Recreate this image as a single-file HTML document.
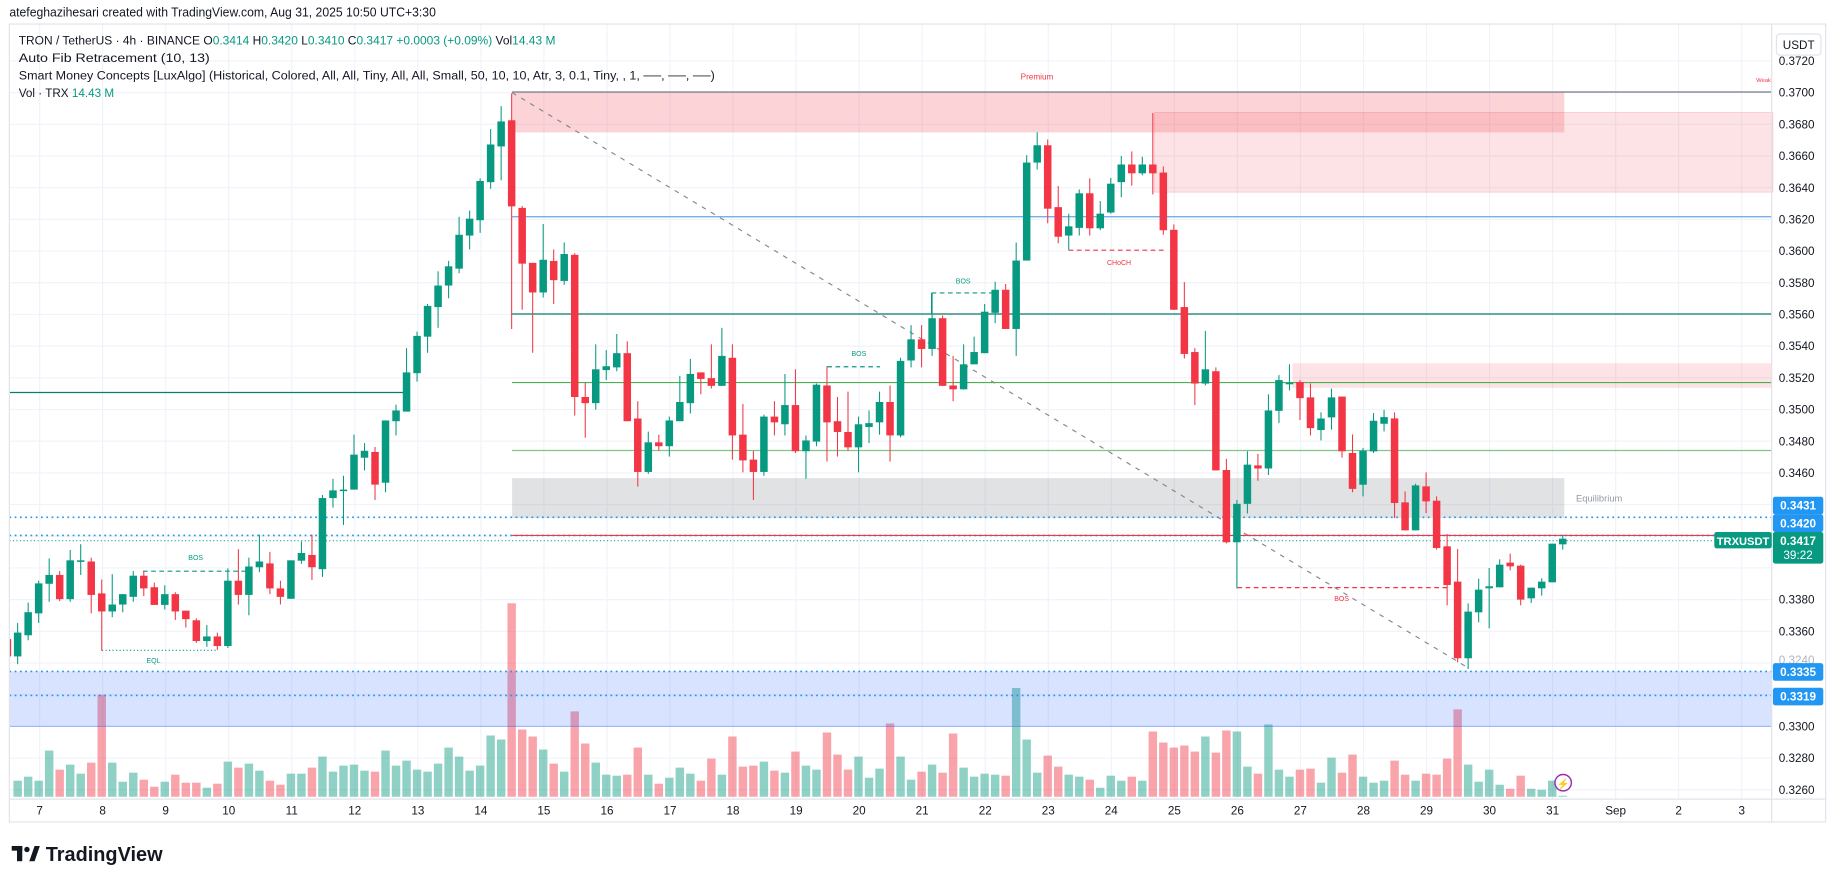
<!DOCTYPE html>
<html><head><meta charset="utf-8">
<style>
html,body{margin:0;padding:0;background:#fff;}
svg{display:block;font-family:"Liberation Sans",sans-serif;}
</style></head>
<body>
<svg id="c" width="1835" height="883" viewBox="0 0 1566 753.6" preserveAspectRatio="none" xmlns="http://www.w3.org/2000/svg">
<rect x="0" y="0" width="1566" height="753.6" fill="#fff"/>
<g id="grid" stroke="#f0f3fa" stroke-width="1"></g>
<!-- zones -->
<rect x="437" y="79" width="898" height="34" fill="rgba(242,54,69,0.21)"/>
<rect x="985" y="96" width="528" height="68" fill="rgba(242,54,69,0.14)" stroke="rgba(242,54,69,0.25)" stroke-width="0.6"/>
<rect x="1103" y="310" width="409" height="21" fill="rgba(242,54,69,0.14)"/>
<rect x="437" y="408" width="898" height="34" fill="rgba(120,123,134,0.22)"/>
<text x="1345" y="428" font-size="8" fill="#9598a1">Equilibrium</text>
<!-- lines -->
<line x1="437" y1="78.5" x2="1512" y2="78.5" stroke="#787b86" stroke-width="1"/>
<text x="885" y="68" font-size="7" fill="#f23645" text-anchor="middle">Premium</text>
<text x="1505" y="70" font-size="5" fill="#f23645" text-anchor="middle">Weak</text>
<line x1="437" y1="185" x2="1512" y2="185" stroke="#64a5e6" stroke-width="1"/>
<line x1="437" y1="268" x2="1512" y2="268" stroke="#0a7d6a" stroke-width="1.1"/>
<line x1="8" y1="335" x2="347" y2="335" stroke="#0a7d6a" stroke-width="1.1"/>
<line x1="437" y1="326.5" x2="1512" y2="326.5" stroke="#4caf50" stroke-width="0.9"/>
<line x1="437" y1="384.5" x2="1512" y2="384.5" stroke="#81c784" stroke-width="1"/>
<line x1="437" y1="79" x2="1253" y2="570" stroke="#888" stroke-width="1" stroke-dasharray="4,5"/>
<!-- SMC labels -->
<line x1="795" y1="250" x2="849" y2="250" stroke="#089981" stroke-width="1" stroke-dasharray="4,3"/>
<line x1="795" y1="250" x2="795" y2="268" stroke="#089981" stroke-width="1"/>
<text x="822" y="242" font-size="6" fill="#089981" text-anchor="middle">BOS</text>
<line x1="706" y1="313" x2="751" y2="313" stroke="#089981" stroke-width="1" stroke-dasharray="4,3"/>
<text x="733" y="304" font-size="6" fill="#089981" text-anchor="middle">BOS</text>
<line x1="122" y1="487.5" x2="212" y2="487.5" stroke="#089981" stroke-width="1" stroke-dasharray="4,3"/>
<text x="167" y="478" font-size="6" fill="#089981" text-anchor="middle">BOS</text>
<line x1="87" y1="555" x2="186" y2="555" stroke="#089981" stroke-width="1" stroke-dasharray="1,2"/>
<text x="131" y="566" font-size="6" fill="#089981" text-anchor="middle">EQL</text>
<line x1="912" y1="213.5" x2="993" y2="213.5" stroke="#f23645" stroke-width="1" stroke-dasharray="4,3"/>
<text x="955" y="226" font-size="6" fill="#f23645" text-anchor="middle">CHoCH</text>
<line x1="1056" y1="501.5" x2="1236" y2="501.5" stroke="#f23645" stroke-width="1" stroke-dasharray="4,3"/>
<text x="1145" y="513" font-size="6" fill="#f23645" text-anchor="middle">BOS</text>
<!-- volume -->
<g id="vol"></g>
<!-- price lines -->
<line x1="8" y1="441.5" x2="1512" y2="441.5" stroke="#2196f3" stroke-width="1.4" stroke-dasharray="1.5,3"/>
<line x1="8" y1="457" x2="1512" y2="457" stroke="#2196f3" stroke-width="1.4" stroke-dasharray="1.5,3"/>
<line x1="437" y1="457" x2="1512" y2="457" stroke="#f23645" stroke-width="1"/>
<line x1="8" y1="461.5" x2="1512" y2="461.5" stroke="#089981" stroke-width="0.8" stroke-dasharray="1,2"/>
<!-- candles -->
<g id="cnd"></g>
<!-- blue zone -->
<rect x="8" y="573" width="1504" height="47" fill="rgba(41,98,255,0.18)"/>
<line x1="8" y1="620" x2="1512" y2="620" stroke="rgba(41,98,255,0.35)" stroke-width="1"/>
<line x1="8" y1="573" x2="1512" y2="573" stroke="#2196f3" stroke-width="1.4" stroke-dasharray="1.5,3"/>
<line x1="8" y1="593.5" x2="1512" y2="593.5" stroke="#2196f3" stroke-width="1.4" stroke-dasharray="1.5,3"/>
<!-- lightning icon -->
<circle cx="1334" cy="668" r="7" fill="#fff" stroke="#9c27b0" stroke-width="1.2"/>
<text x="1334" y="672" font-size="9" fill="#9c27b0" text-anchor="middle">⚡</text>
<!-- frame -->
<rect x="8" y="20.5" width="1550" height="681" fill="none" stroke="#e0e3eb" stroke-width="1"/>
<line x1="8" y1="682" x2="1558" y2="682" stroke="#e0e3eb" stroke-width="1"/>
<line x1="1512" y1="20.5" x2="1512" y2="702" stroke="#e0e3eb" stroke-width="1"/>
<g id="axis" font-size="10" fill="#131722"></g>
<!-- header -->
<text x="8" y="14" font-size="11" fill="#131722" textLength="364" lengthAdjust="spacingAndGlyphs">atefeghazihesari created with TradingView.com, Aug 31, 2025 10:50 UTC+3:30</text>
<text x="16" y="38" font-size="10" fill="#131722" textLength="458" lengthAdjust="spacingAndGlyphs">TRON / TetherUS · 4h · BINANCE  O<tspan fill="#089981">0.3414</tspan>  H<tspan fill="#089981">0.3420</tspan>  L<tspan fill="#089981">0.3410</tspan>  C<tspan fill="#089981">0.3417</tspan>  <tspan fill="#089981">+0.0003 (+0.09%)</tspan>  Vol<tspan fill="#089981">14.43 M</tspan></text>
<text x="16" y="53" font-size="10" fill="#131722" textLength="163" lengthAdjust="spacingAndGlyphs">Auto Fib Retracement (10, 13)</text>
<text x="16" y="68" font-size="10" fill="#131722" textLength="594" lengthAdjust="spacingAndGlyphs">Smart Money Concepts [LuxAlgo] (Historical, Colored, All, All, Tiny, All, All, Small, 50, 10, 10, Atr, 3, 0.1, Tiny, , 1, ──, ──, ──)</text>
<text x="16" y="83" font-size="10" fill="#131722">Vol · TRX  <tspan fill="#089981">14.43 M</tspan></text>
<rect x="1516" y="29" width="38" height="18" rx="3" fill="#fff" stroke="#e0e3eb"/>
<text x="1535" y="42" font-size="10" fill="#131722" text-anchor="middle">USDT</text>
<!-- price tags -->
<rect x="1513" y="424" width="43" height="15" rx="2" fill="#2196f3"/>
<text x="1534.5" y="435" font-size="10" fill="#fff" text-anchor="middle" font-weight="bold">0.3431</text>
<rect x="1513" y="439" width="43" height="15" rx="2" fill="#2196f3"/>
<text x="1534.5" y="450" font-size="10" fill="#fff" text-anchor="middle" font-weight="bold">0.3420</text>
<rect x="1463" y="454" width="49" height="14" rx="2" fill="#089981"/>
<text x="1487.5" y="465" font-size="9.5" fill="#fff" text-anchor="middle" font-weight="bold">TRXUSDT</text>
<rect x="1513" y="454" width="43" height="27" rx="2" fill="#089981"/>
<text x="1534.5" y="465" font-size="10" fill="#fff" text-anchor="middle" font-weight="bold">0.3417</text>
<text x="1534.5" y="477" font-size="10" fill="#fff" text-anchor="middle">39:22</text>
<rect x="1513" y="566" width="43" height="15" rx="2" fill="#2196f3"/>
<text x="1534.5" y="577" font-size="10" fill="#fff" text-anchor="middle" font-weight="bold">0.3335</text>
<rect x="1513" y="587" width="43" height="15" rx="2" fill="#2196f3"/>
<text x="1534.5" y="598" font-size="10" fill="#fff" text-anchor="middle" font-weight="bold">0.3319</text>
<!-- logo -->
<g transform="translate(10,722)">
<rect x="0" y="0" width="9" height="4" fill="#131722"/>
<rect x="4.5" y="0" width="4.5" height="13" fill="#131722"/>
<circle cx="13" cy="3" r="2.3" fill="#131722"/>
<path d="M15 13 L19.5 0 L24 0 L19.5 13 Z" fill="#131722"/>
</g>
<text x="39" y="735" font-size="17" font-weight="bold" fill="#131722">TradingView</text>
</svg>
<script>
(function(){
var NS="http://www.w3.org/2000/svg";
function el(p,t,a){var e=document.createElementNS(NS,t);for(var k in a)e.setAttribute(k,a[k]);p.appendChild(e);return e;}
function Y(p){return 52+(0.372-p)*13522;}
var grid=document.getElementById('grid');
for(var p=0.372;p>0.3255;p-=0.002){var y=Y(p);el(grid,'line',{x1:8,y1:y,x2:1512,y2:y});}
function DX(n){return 1325-(31-n)*53.8;}
for(var n=7;n<=34;n++){var x=DX(n);if(x<1512)el(grid,'line',{x1:x,y1:20,x2:x,y2:682});}
var ax=document.getElementById('axis');
var pl=[0.372,0.370,0.368,0.366,0.364,0.362,0.360,0.358,0.356,0.354,0.352,0.350,0.348,0.346,0.338,0.336,0.330,0.328,0.326];
pl.forEach(function(p){var t=el(ax,'text',{x:1518,y:Y(p)+3.5,'font-size':10});t.textContent=p.toFixed(4);});
var t=el(ax,'text',{x:1518,y:Y(0.334)+1,'font-size':10,fill:'#b2b5be'});t.textContent='0.3240';
for(var n=7;n<=31;n++){var tt=el(ax,'text',{x:DX(n),y:695,'text-anchor':'middle','font-size':10});tt.textContent=n;}
[['Sep',32],['2',33],['3',34]].forEach(function(a){var tt=el(ax,'text',{x:DX(a[1]),y:695,'text-anchor':'middle','font-size':10});tt.textContent=a[0];});
// candles
var Z1=[[0,'r',1452,1497,1452,1497],
[1,'g',1435,1497,1410,1517],[2,'g',1382,1442,1357,1455],[3,'g',1307,1385,1300,1410],[4,'g',1285,1308,1242,1355],[5,'r',1285,1348,1275,1353],[6,'g',1247,1348,1220,1355],[7,'g',1247,1251,1205,1285],[8,'r',1250,1337,1240,1385],[9,'r',1333,1380,1297,1482],[10,'g',1362,1380,1283,1395],[11,'g',1335,1362,1335,1382],[12,'g',1287,1342,1275,1355],[13,'r',1287,1320,1275,1340],[14,'r',1317,1363,1305,1363],[15,'g',1335,1363,1312,1375],[16,'r',1335,1380,1330,1402],[17,'r',1378,1400,1378,1422],[18,'r',1403,1457,1398,1462],[19,'g',1445,1457,1415,1472],[20,'r',1445,1470,1435,1480],[21,'g',1300,1470,1268,1475],[22,'r',1300,1337,1218,1362],[23,'g',1263,1337,1240,1390],[24,'g',1250,1265,1180,1278],[25,'r',1255,1320,1225,1335],[26,'r',1320,1342,1300,1362],[27,'g',1247,1347,1247,1347],[28,'g',1228,1248,1198,1256],[29,'r',1233,1265,1180,1298],[30,'g',1085,1270,1077,1290],[31,'g',1065,1085,1035,1110],[32,'g',1063,1067,1027,1155],[33,'g',972,1063,920,1063],[34,'g',962,980,942,1013],[35,'r',965,1050,952,1090],[36,'g',883,1045,883,1070],[37,'g',857,885,842,922],[38,'g',758,860,695,860],[39,'g',663,760,652,782],[40,'g',585,665,580,707],[41,'g',532,588,495,642],[42,'g',482,532,468,565],
[43,'g',400,488,353,500],[44,'g',358,402,337,438],[45,'g',260,362,253,395],[46,'g',165,263,125,280],[47,'g',105,170,65,258],[48,'r',102,326,32,645],[49,'r',330,475,325,595],[50,'r',473,550,473,707],[51,'g',465,550,372,563],[52,'r',468,518,438,580],[53,'g',450,520,420,530],[54,'r',452,822,448,870],[55,'r',822,838,785,928],[56,'g',750,838,685,855],[57,'g',742,752,700,778],[58,'g',708,745,658,755],[59,'r',708,885,677,885],[60,'r',878,1017,833,1055],[61,'g',940,1017,912,1022],[62,'r',940,950,920,962],[63,'g',883,950,873,977],[64,'g',835,885,767,885],[65,'g',762,838,723,865],[66,'r',758,775,758,815],[67,'r',773,793,685,800],[68,'g',715,793,642,793],[69,'r',720,922,685,985],[70,'r',920,987,840,1018],[71,'r',985,1017,962,1090],[72,'g',873,1017,868,1027],[73,'r',873,888,833,922],[74,'g',843,893,762,922],[75,'r',843,963,750,968],[76,'g',935,963,922,1035],[77,'g',790,938,787,950],[78,'r',792,888,742,990],[79,'r',885,913,822,977],[80,'r',913,953,808,962],[81,'g',893,953,873,1018],[82,'g',890,900,857,942],[83,'g',835,888,808,920],
[84,'r',835,922,792,990],[85,'g',728,922,720,927],[86,'g',672,727,635,745],[87,'r',672,697,635,745],[88,'g',617,697,552,715],[89,'r',617,793,610,793],[90,'r',792,802,715,833],[91,'g',737,802,685,803],[92,'g',705,737,665,737],[93,'g',600,708,580,708],[94,'g',543,603,522,630],[95,'r',543,645,528,645],[96,'g',467,645,420,715],[97,'g',212,467,193,467],[98,'g',167,212,133,230],[99,'r',167,332,152,370],[100,'r',328,405,273,422],[101,'g',378,402,345,440],[102,'g',292,382,282,402],[103,'r',292,383,253,402],[104,'g',345,383,312,388],[105,'g',267,342,252,345],[106,'g',217,263,195,302],[107,'r',217,240,183,272],[108,'g',217,240,197,245],[109,'r',217,240,83,295],[110,'r',238,388,222,400],[111,'r',387,595,373,595],[112,'r',588,710,523,722],[113,'r',705,787,695,843],[114,'g',750,787,650,792],[115,'r',755,1013,745,1013],[116,'r',1012,1200,983,1203],[117,'g',1100,1200,1090,1320],[118,'g',998,1100,963,1125],[119,'r',1000,1008,970,1040],[120,'g',857,1008,815,1025],[121,'g',778,858,765,890],[122,'g',785,789,737,805],[123,'r',783,825,778,882],[124,'r',823,903,787,922],[125,'g',878,908,862,935],[126,'g',823,875,800,907]];
var Z4=[[127,'r',285,448,285,467],[128,'r',453,560,398,570]];
var Z7=[[129,'g',33,135,25,170],[130,'g',-57,35,-80,40],[131,'g',-68,-48,-90,-25],[132,'r',-64,190,-82,235],[133,'r',188,272,155,272],[134,'g',137,272,132,272],[135,'r',140,185,98,220],[136,'r',183,325,170,330],[137,'r',320,436,283,497],[138,'r',426,656,328,668],[139,'g',516,656,491,688],[140,'g',450,518,417,548],[141,'g',440,446,385,566],[142,'g',375,443,359,443],[143,'r',369,380,342,392],[144,'r',378,480,375,497],[145,'g',444,476,444,490],[146,'g',426,446,416,468],[147,'g',312,428,312,428],[148,'g',297,314,285,330]];
var cg=document.getElementById('cnd');
function draw(arr,f){arr.forEach(function(c){var x=33+(c[0]-3)*8.97;var col=c[1]=='g'?'#089981':'#f23645';
var bt=f(c[2]),bb=f(c[3]),wt=f(c[4]),wb=f(c[5]);
if(x<8)return;
el(cg,'line',{x1:x,y1:wt,x2:x,y2:wb,stroke:col,'stroke-width':0.9});
el(cg,'rect',{x:x-3.2,y:bt,width:6.4,height:Math.max(1,bb-bt),fill:col});});}
draw(Z1,function(v){return 69.2+v*0.328;});
draw(Z4,function(v){return 256.8+v*0.2865;});
draw(Z7,function(v){return 375.3+v*0.2843;});
// partial first candle
el(cg,'rect',{x:8,y:69.2+1452*0.328,width:1.5,height:45*0.328,fill:'#f23645'});
// volumes
var V=[['r',228],['g',267],['g',255],['g',267],['g',177],['r',234],['g',219],['g',246],['r',213],['r',10],['g',213],['g',270],['g',243],['r',264],['r',285],['g',270],['r',249],['r',273],['r',273],['g',288],['r',276],['g',210],['r',228],['g',216],['g',237],['r',267],['r',279],['g',246],['g',246],['r',228],['g',195],['g',240],['g',222],['g',219],['g',237],['r',240],['g',177],['g',222],['g',207],['g',234],['g',240],['g',216],['g',168],['g',195],['g',237],['g',222],['g',132],['g',144],['r',-263],['r',114],['r',135],['g',174],['r',216],['g',240],['r',60],['r',156],['g',213],['g',249],['g',252],['r',249],['r',168],['g',249],['r',276],['g',258],['g',228],['g',246],['r',267],['r',201],['g',249],['r',135],['r',225],['r',222],['g',210],['r',237],['g',243],['r',180],['g',222],['g',234],['r',123],['r',189],['r',234],['g',195],['g',258],['g',231],['r',96],['g',195],['g',264],['r',240],['g',219],['r',243],['r',126],['g',228],['g',255],['g',246],['g',249],['r',252],['g',-10],['g',144],['g',243],['r',192],['r',225],['g',249],['g',255],['r',264],['g',288],['g',252],['g',267],['r',255],['g',267],['r',120],['r',153],['r',168],['r',162],['r',180],['g',135],['r',183],['r',117],['g',120],['g',225],['r',246],['g',99],['g',234],['g',255],['r',234],['r',231],['g',273],['g',198],['r',243],['r',189],['g',255],['g',273],['g',267],['r',207],['r',249],['g',267],['r',246],['r',249],['r',201],['r',54],['g',219],['g',270],['g',234],['g',279],['r',291],['r',252],['g',291],['g',294],['g',267],['g',312]];
var vg=document.getElementById('vol');
V.forEach(function(v,i){var x=33+(i-3)*8.97;var h=(315-v[1])/3.5;if(x<8)return;
el(vg,'rect',{x:x-3.6,y:680-h,width:7.2,height:h,fill:v[0]=='g'?'rgba(8,153,129,0.45)':'rgba(242,54,69,0.45)'});});
})();
</script>
</body></html>
